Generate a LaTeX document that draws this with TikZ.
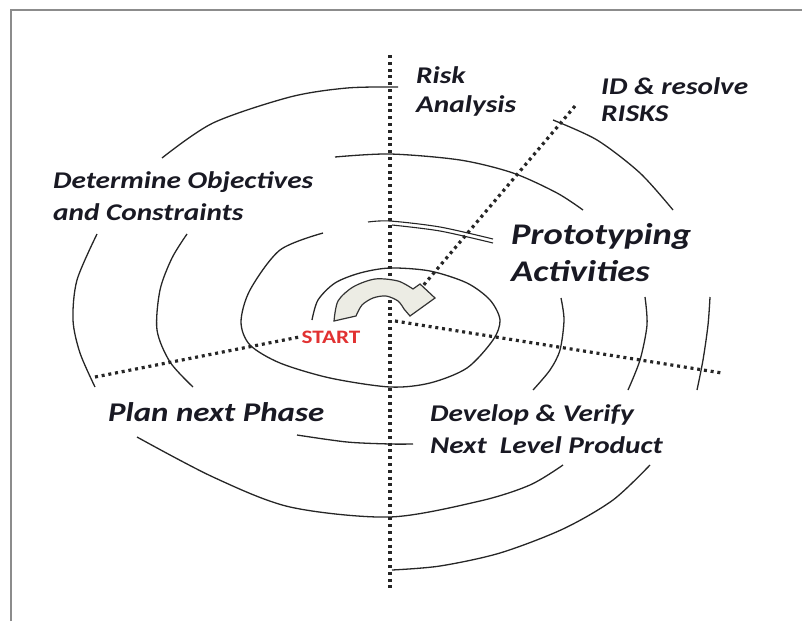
\documentclass[tikz,border=0pt]{standalone}
\usepackage{fontspec}
\setmainfont{Carlito}[FakeStretch=1.22]
\usetikzlibrary{positioning}
\definecolor{startred}{RGB}{225,50,50}
\definecolor{arrowgray}{RGB}{236,236,228}
\definecolor{framegray}{RGB}{140,140,140}
\definecolor{textdark}{RGB}{25,25,35}

\tikzset{
  lbl/.style={anchor=north west, inner sep=0pt, align=left, text=textdark},
  spiral/.style={line width=1.3pt, black!85},
  axisline/.style={line width=3.2pt, dash pattern=on 3pt off 3.8pt, black!85},
}

\begin{document}
\begin{tikzpicture}[x=1pt, y=-1pt]
  \useasboundingbox (0,0) rectangle (802,621);
  \draw[framegray, line width=2pt] (11,621) -- (11,10) -- (802,10);

  % axes of the four quadrants
  \coordinate (vtop) at (390,55);
  \coordinate (vbot) at (390,588);
  \coordinate (dtop) at (575,106);
  \coordinate (dend) at (411,300);
  \coordinate (rbeg) at (395,321);
  \coordinate (rend) at (722,373);
  \coordinate (lend) at (95,377);
  \node[text=startred, font=\bfseries\fontsize{19}{22}\selectfont, inner sep=0pt] (start) at (331,337) {START};

  \draw[axisline] (vtop) -- (vbot);
  \draw[axisline] (dtop) -- (dend);
  \draw[axisline] (rbeg) -- (rend);
  \draw[axisline] (lend) -- ([xshift=-2pt]start.west);

  % the spiral, piece by piece
  \draw[spiral] plot[smooth] coordinates {(312,320) (318,300) (335,283) (360,273) (390,268) (430,271) (467,283) (490,300) (500,320) (493,340) (467,368) (430,383) (390,387) (330,378) (280,363) (250,345) (241,322) (250,290) (280,250) (323,233)};
  \draw[spiral, line width=1.1pt] plot[smooth] coordinates {(368,222) (390,221) (440,227) (493,239)};
  \draw[spiral, line width=1.1pt] plot[smooth] coordinates {(392,225) (440,231) (493,243)};
  \draw[spiral] plot[smooth] coordinates {(561,298) (564,320) (560,350) (550,370) (533,390)};
  \draw[spiral] plot[smooth] coordinates {(297,435) (347,442) (390,444) (413,444)};
  \draw[spiral] plot[smooth] coordinates {(193,387) (170,362) (157,330) (160,290) (172,258) (187,234)};
  \draw[spiral] plot[smooth] coordinates {(335,157) (390,154) (460,160) (513,173) (557,193) (583,210)};
  \draw[spiral] plot[smooth] coordinates {(645,297) (647,325) (640,360) (628,390)};
  \draw[spiral] plot[smooth] coordinates {(563,465) (530,485) (480,501) (390,517) (290,507) (213,477) (137,437)};
  \draw[spiral] plot[smooth] coordinates {(95,387) (80,353) (73,320) (77,280) (97,234)};
  \draw[spiral] plot[smooth] coordinates {(162,158) (213,123) (290,97) (347,88) (398,87)};
  \draw[spiral] plot[smooth] coordinates {(553,120) (597,140) (640,173) (673,210)};
  \draw[spiral] plot[smooth] coordinates {(710,297) (708,325) (703,360) (697,390)};
  \draw[spiral] plot[smooth] coordinates {(650,465) (613,500) (563,529) (500,553) (440,566) (392,570)};

  % curved start arrow
  \draw[line width=1.2pt, draw=black!80, fill=arrowgray]
    plot[smooth] coordinates {(334,321) (338,301) (353,287) (375,279) (398,281) (413,289)}
    -- (420,284) -- (435,298) -- (410,316) -- (404,309)
    -- plot[smooth] coordinates {(404,309) (398,301) (386,296) (373,298) (362,305) (356,316)}
    -- cycle;

  % labels
  \node[lbl, font=\bfseries\itshape\fontsize{24}{29}\selectfont] (risk) at (416,66) {Risk\\Analysis};
  \node[lbl, font=\bfseries\itshape\fontsize{24}{27}\selectfont] (idres) at (601,77) {ID \& resolve\\RISKS};
  \node[lbl, font=\bfseries\itshape\fontsize{24}{32}\selectfont] (objectives) at (53,171) {Determine Objectives\\and Constraints};
  \node[lbl, font=\bfseries\itshape\fontsize{30}{37}\selectfont] (proto) at (511,223) {Prototyping\\Activities};
  \node[lbl, font=\bfseries\itshape\fontsize{27}{32}\selectfont] (plan) at (108,402) {Plan next Phase};
  \node[lbl, font=\bfseries\itshape\fontsize{24}{32}\selectfont] (develop) at (430,404) {Develop \& Verify\\Next~ Level Product};
\end{tikzpicture}
\end{document}
